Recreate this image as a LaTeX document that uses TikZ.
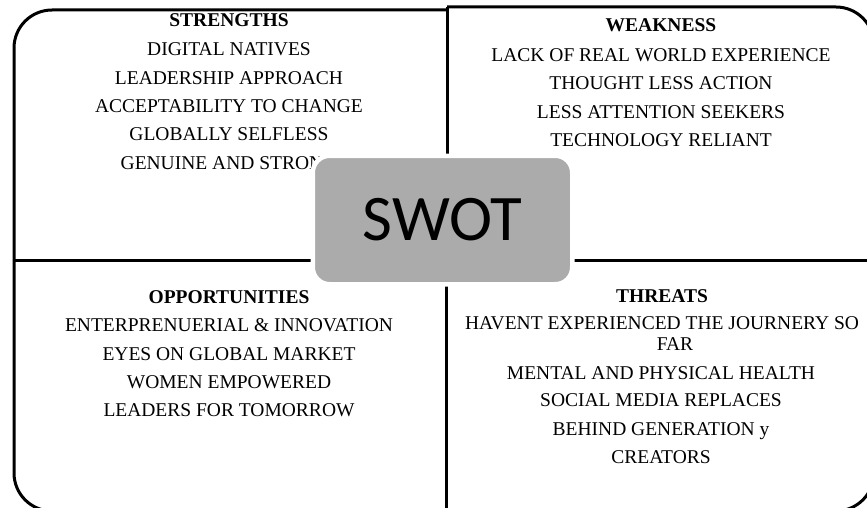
\documentclass[tikz,border=0pt]{standalone}
\usepackage{fontspec}
\setmainfont{Liberation Serif}
\newfontfamily\swotfont{Carlito}
\definecolor{swotgray}{HTML}{ABABAB}

\begin{document}
\begin{tikzpicture}[x=1pt, y=-1pt,
    frame/.style={line width=3pt, rounded corners=38pt},
    divider/.style={line width=3pt},
    head/.style={anchor=base, inner sep=0pt, font=\fontsize{19.5}{24}\selectfont\bfseries},
    item/.style={anchor=base, inner sep=0pt, font=\fontsize{19.5}{24}\selectfont},
    swotbox/.style={fill=swotgray, draw=white, line width=4.5pt, rounded corners=17pt,
        minimum width=259.5pt, minimum height=128.5pt, inner sep=0pt,
        font=\swotfont\fontsize{65}{70}\selectfont}]
    \useasboundingbox (0,0) rectangle (867,508);
    \clip (0,0) rectangle (867,508);

    % outer frame, one rounded corner for each quadrant
    \draw[frame] (14,260) |- (447,10);
    \draw[frame] (447,7) -| (874,260);
    \draw[frame] (874,260) |- (446,511);
    \draw[frame] (446,511) -| (14,260);

    % dividers
    \draw[divider] (447,7) -- (447,260);
    \draw[divider] (446,260) -- (446,511);
    \draw[divider] (14,260) -- (874,260);

    % strengths
    \node[head] (s-head) at (229,26.7) {STRENGTHS};
    \foreach \txt [count=\i] in {DIGITAL NATIVES, LEADERSHIP APPROACH,
            ACCEPTABILITY TO CHANGE, GLOBALLY SELFLESS, GENUINE AND STRONG}
        \node[item] (s\i) at (229,{27.6+28.35*\i}) {\txt};

    % weakness
    \node[head] (w-head) at (661,31.7) {WEAKNESS};
    \foreach \txt [count=\i] in {LACK OF REAL WORLD EXPERIENCE, THOUGHT LESS ACTION,
            LESS ATTENTION SEEKERS, TECHNOLOGY RELIANT}
        \node[item] (w\i) at (661,{33.4+28.3*\i}) {\txt};

    % opportunities
    \node[head] (o-head) at (229,303.3) {OPPORTUNITIES};
    \foreach \txt [count=\i] in {ENTERPRENUERIAL \& INNOVATION, EYES ON GLOBAL MARKET,
            WOMEN EMPOWERED, LEADERS FOR TOMORROW}
        \node[item] (o\i) at (229,{303.3+28.35*\i}) {\txt};

    % threats (first item wraps)
    \node[head] (t-head) at (662,302.3) {THREATS};
    \foreach \x/\y/\txt [count=\i] in {662/329.3/HAVENT EXPERIENCED THE JOURNERY SO,
            675/350/FAR, 661/379.3/MENTAL AND PHYSICAL HEALTH,
            661/406.7/SOCIAL MEDIA REPLACES, 661/435/BEHIND GENERATION y,
            661/463.3/CREATORS}
        \node[item] (t\i) at (\x,\y) {\txt};

    % centre label
    \node[swotbox] (swot) at (442.5,220) {SWOT};
\end{tikzpicture}
\end{document}
